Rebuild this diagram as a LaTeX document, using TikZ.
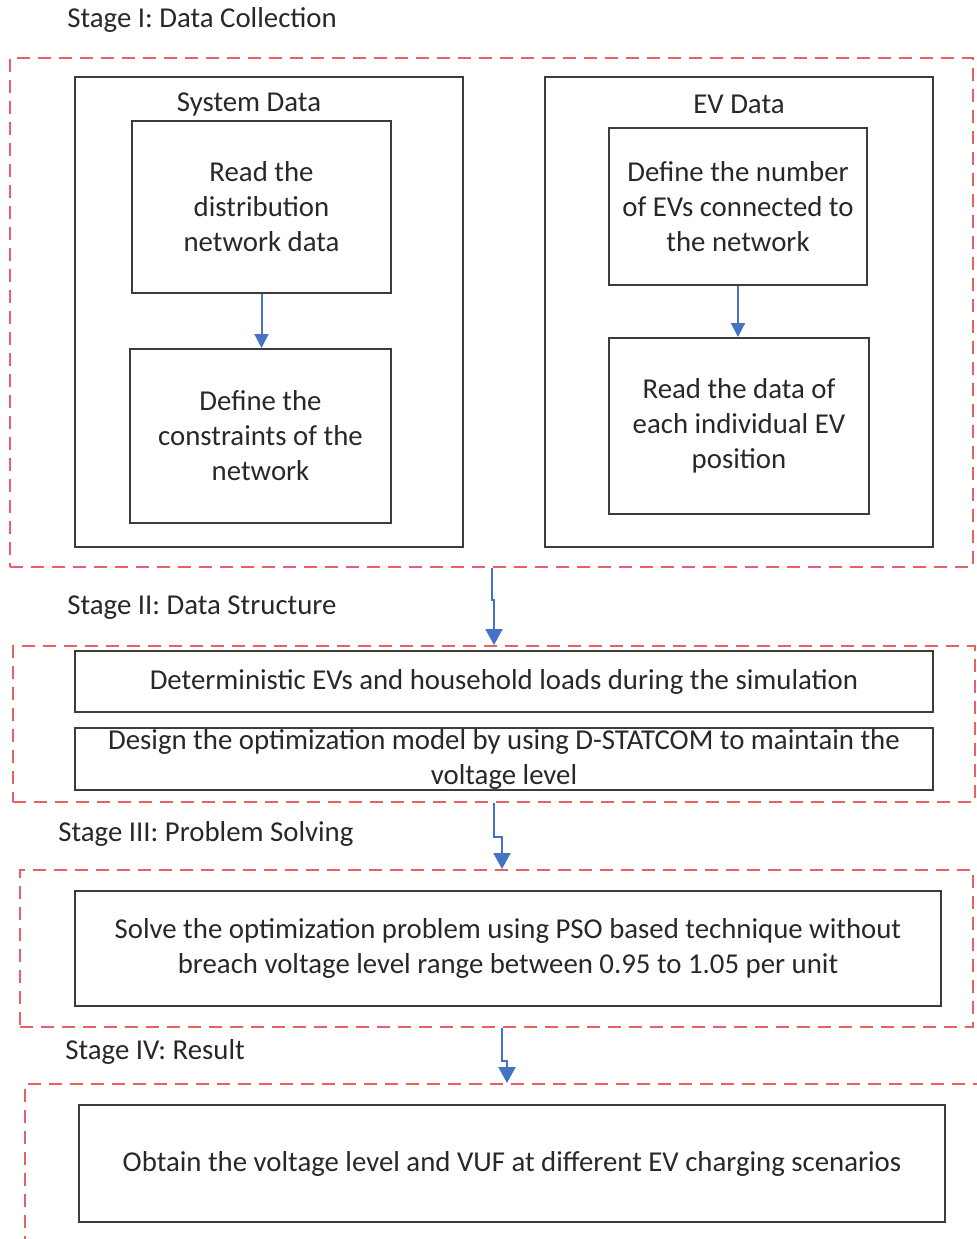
\documentclass[tikz,border=0pt]{standalone}
\usepackage{fontspec}
\setmainfont{Carlito}
\usetikzlibrary{arrows.meta, positioning}
\definecolor{stagered}{RGB}{232,96,104}
\definecolor{flowblue}{RGB}{68,114,196}
\definecolor{gray60}{RGB}{60,60,60}
\definecolor{textgray}{RGB}{40,40,40}

\begin{document}
\begin{tikzpicture}[x=0.5pt, y=-0.5pt,
    font=\fontsize{14.4}{17.5}\selectfont,
    box/.style={draw=gray60, line width=1pt, align=center, text=textgray, inner sep=0pt},
    stagebox/.style={draw=stagered, line width=1pt, dash pattern=on 6.5pt off 4pt, inner sep=0pt},
    stagelabel/.style={anchor=west, text=textgray, inner sep=0pt},
    flow/.style={draw=flowblue, line width=1pt, -{Triangle[width=8.5pt,length=8pt]}},
    subflow/.style={draw=flowblue, line width=1pt, -{Triangle[width=7pt,length=7pt]}}]
  \useasboundingbox (0,0) rectangle (977,1239);
  \clip (0,0) rectangle (977,1239);

  % stage frames
  \node[stagebox, minimum width=481.5pt, minimum height=254.5pt] (stageI) at (491.5,312.5) {};
  \node[stagebox, minimum width=481pt, minimum height=78pt] (stageII) at (494,724) {};
  \node[stagebox, minimum width=476.5pt, minimum height=78.5pt] (stageIII) at (496.5,948.5) {};
  \node[stagebox, minimum width=485pt, minimum height=88pt] (stageIV) at (510,1172) {};

  \node[stagelabel] (labI) at (67,20) {Stage I: Data Collection};
  \node[stagelabel] (labII) at (67,608) {Stage II: Data Structure};
  \node[stagelabel] (labIII) at (58,834) {Stage III: Problem Solving};
  \node[stagelabel] (labIV) at (65,1052) {Stage IV: Result};

  % stage I: system data and EV data
  \node[box, minimum width=194pt, minimum height=235pt] (sysdata) at (269,312) {};
  \node[text=textgray] (syslabel) at (249,104) {System Data};
  \node[box, minimum width=129.5pt, minimum height=86pt] (readnet) at (261.5,207)
    {Read the\\distribution\\network data};
  \node[box, minimum width=130.5pt, minimum height=87pt] (constr) at (260.5,436)
    {Define the\\constraints of the\\network};

  \node[box, minimum width=194pt, minimum height=235pt] (evdata) at (739,312) {};
  \node[text=textgray] (evlabel) at (739,104) {EV Data};
  \node[box, minimum width=129pt, minimum height=78.5pt] (evnum) at (738,206.5)
    {Define the number\\of EVs connected to\\the network};
  \node[box, minimum width=130pt, minimum height=88pt] (evpos) at (739,426)
    {Read the data of\\each individual EV\\position};

  \draw[subflow] (readnet.south) -- (readnet.south |- constr.north);
  \draw[subflow] (evnum.south) -- (evnum.south |- evpos.north);

  % stage II
  \node[box, minimum width=429pt, minimum height=30.5pt] (determ) at (504,681.5)
    {Deterministic EVs and household loads during the simulation};
  \node[box, minimum width=429pt, minimum height=31pt] (design) at (504,759)
    {Design the optimization model by using D-STATCOM to maintain the\\voltage level};

  % stage III
  \node[box, minimum width=433pt, minimum height=57.5pt] (solve) at (508,948.5)
    {Solve the optimization problem using PSO based technique without\\breach voltage level range between 0.95 to 1.05 per unit};

  % stage IV
  \node[box, minimum width=433pt, minimum height=58.5pt] (result) at (512,1163.5)
    {Obtain the voltage level and VUF at different EV charging scenarios};

  % links between stages
  \draw[flow] (stageI.south) -- ++(0,32) -| (stageII.north);
  \draw[flow] (stageII.south) -- ++(0,34) -| ([xshift=2.75pt]stageIII.north);
  \draw[flow] ([xshift=2.75pt]stageIII.south) -- ++(0,33) -| ([xshift=-1.5pt]stageIV.north);
\end{tikzpicture}
\end{document}
